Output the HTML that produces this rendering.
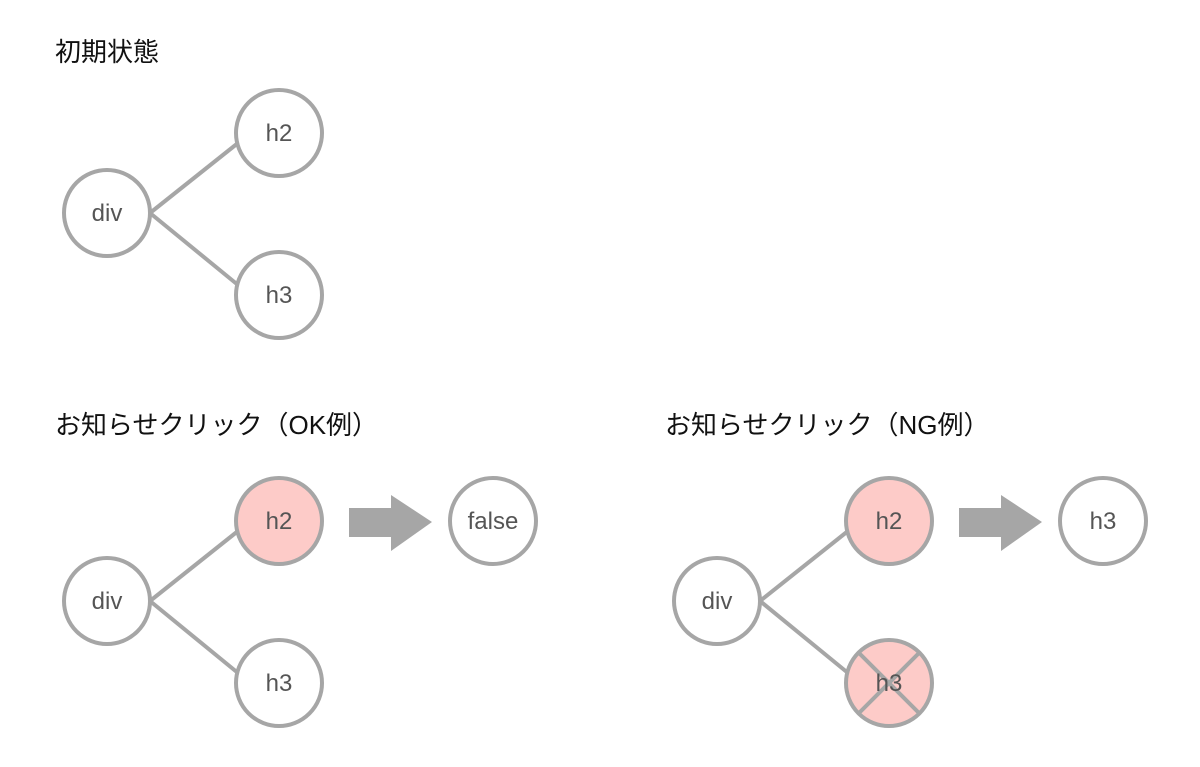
<!DOCTYPE html>
<html><head><meta charset="utf-8"><style>
html,body{margin:0;padding:0;background:#fff;}
svg{display:block;}
.t{font-family:"Liberation Sans","Noto Sans CJK JP",sans-serif;font-size:26px;fill:#111;}
.n{font-family:"Liberation Sans",sans-serif;font-size:24px;fill:#555;text-anchor:middle;}
circle{stroke:#a6a6a6;stroke-width:4;fill:#fff;}
.p{fill:#fdcbc8;}
line{stroke:#a6a6a6;stroke-width:4;}
</style></head><body>
<svg width="1200" height="767" viewBox="0 0 1200 767">
<text class="t" x="55" y="61">初期状態</text>
<text class="t" x="55" y="434">お知らせクリック（OK例）</text>
<text class="t" x="665" y="434">お知らせクリック（NG例）</text>

<g>
<line x1="150" y1="213" x2="238" y2="143"/>
<line x1="150" y1="213" x2="238" y2="285"/>
<circle cx="107" cy="213" r="43"/><text class="n" x="107" y="221">div</text>
<circle cx="279" cy="133" r="43"/><text class="n" x="279" y="141">h2</text>
<circle cx="279" cy="295" r="43"/><text class="n" x="279" y="303">h3</text>
</g>

<g>
<line x1="150" y1="601" x2="238" y2="531"/>
<line x1="150" y1="601" x2="238" y2="673"/>
<circle cx="107" cy="601" r="43"/><text class="n" x="107" y="609">div</text>
<circle class="p" cx="279" cy="521" r="43"/><text class="n" x="279" y="529">h2</text>
<circle cx="279" cy="683" r="43"/><text class="n" x="279" y="691">h3</text>
<polygon points="349,508 391,508 391,495 432,522 391,551 391,537 349,537" fill="#a6a6a6"/>
<circle cx="493" cy="521" r="43"/><text class="n" x="493" y="529">false</text>
</g>

<g>
<line x1="760" y1="601" x2="848" y2="531"/>
<line x1="760" y1="601" x2="848" y2="673"/>
<circle cx="717" cy="601" r="43"/><text class="n" x="717" y="609">div</text>
<circle class="p" cx="889" cy="521" r="43"/><text class="n" x="889" y="529">h2</text>
<circle class="p" cx="889" cy="683" r="43"/>
<line x1="858" y1="652" x2="920" y2="714"/>
<line x1="920" y1="652" x2="858" y2="714"/>
<text class="n" x="889" y="691">h3</text>
<polygon points="959,508 1001,508 1001,495 1042,522 1001,551 1001,537 959,537" fill="#a6a6a6"/>
<circle cx="1103" cy="521" r="43"/><text class="n" x="1103" y="529">h3</text>
</g>
</svg>
</body></html>
